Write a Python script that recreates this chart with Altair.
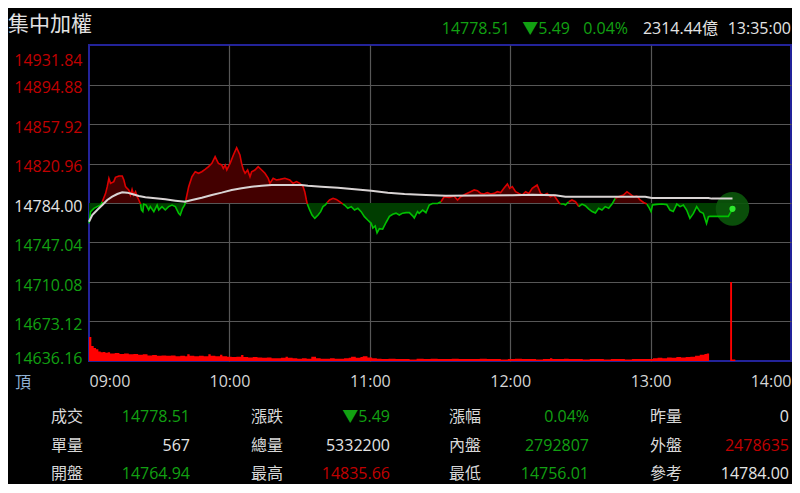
import altair as alt
import pandas as pd

# ---------------- data ----------------
TITLE = "集中加權"
CORNER = "頂"
BASE = 14784.00  # reference price (參考)
Y_TICKS = [14636.16, 14673.12, 14710.08, 14747.04, 14784.00,
           14820.96, 14857.92, 14894.88, 14931.84]
X_TICKS = [0, 60, 120, 180, 240, 300]  # minutes after 09:00

PRICE_MIN = [0, 0.7, 2.1, 3.5, 5.0, 5.7, 7.1, 7.8, 8.5, 9.2, 10.6, 11.3, 12.8, 14.2, 14.9,
             15.6, 16.3, 17.0, 17.7, 18.4, 19.1, 19.9, 20.6, 21.3, 22.0, 22.4, 23.0, 23.4,
             24.4, 25.5, 26.2, 27.7, 29.1, 29.8, 31.2, 32.6, 34.0, 35.5, 36.9, 38.3, 39.0,
             40.0, 40.9, 41.4, 42.6, 44.0, 45.4, 46.8, 48.2, 49.6, 51.1, 52.5, 53.9, 54.6,
             55.3, 56.7, 57.4, 58.2, 58.9, 60.3, 61.7, 63.1, 64.5, 65.2, 66.0, 66.7, 67.8,
             68.8, 69.5, 70.9, 72.3, 73.8, 75.2, 76.6, 77.3, 78.7, 80.1, 81.6, 83.7, 85.8,
             87.2, 88.7, 90.1, 91.5, 92.2, 92.9, 93.3, 94.3, 95.3, 96.5, 97.9, 99.0, 100.0,
             101.0, 101.8, 102.8, 104.3, 105.7, 107.1, 108.5, 109.2, 110.6, 112.1, 113.5,
             114.9, 116.3, 117.7, 119.1, 120.6, 121.3, 122.3, 123.1, 124.1, 125.5, 127.0,
             128.4, 129.8, 131.2, 132.6, 134.0, 135.5, 136.9, 138.3, 139.0, 140.4, 141.1,
             142.6, 144.0, 145.4, 146.8, 149.0, 150.4, 151.8, 153.9, 156.0, 157.5, 158.9,
             161.0, 163.1, 164.6, 166.0, 167.4, 168.8, 170.2, 171.7, 173.1, 174.5, 175.9,
             177.3, 178.8, 179.8, 180.9, 182.3, 183.7, 185.1, 186.6, 188.0, 189.4, 191.5,
             193.0, 194.4, 195.8, 197.2, 198.6, 200.1, 200.8, 201.5, 202.9, 203.6, 205.0,
             206.4, 207.9, 209.3, 210.7, 212.1, 213.5, 215.0, 216.4, 217.8, 219.2, 220.6,
             222.1, 223.5, 224.9, 226.3, 228.4, 229.9, 231.3, 232.7, 234.1, 235.5, 237.0,
             238.4, 239.4, 240.2, 240.8, 242.6, 244.8, 246.9, 248.3, 249.7, 251.2, 252.6,
             254.0, 255.4, 256.8, 258.3, 259.7, 261.1, 262.5, 263.9, 264.7, 265.4, 273.2,
             275.0]
PRICE = [14764.94, 14775.9, 14779.0, 14780.6, 14782.1, 14785.3, 14793.0, 14799.3, 14807.1,
         14802.4, 14804.0, 14808.0, 14809.3, 14809.3, 14805.5, 14799.3, 14797.7, 14796.2,
         14791.5, 14796.8, 14791.5, 14794.6, 14789.9, 14786.8, 14783.0, 14777.5, 14775.9,
         14783.0, 14782.1, 14777.5, 14780.6, 14775.9, 14782.1, 14777.5, 14780.6, 14777.5,
         14780.6, 14782.1, 14780.6, 14774.3, 14772.8, 14779.0, 14782.1, 14786.8, 14799.3,
         14808.6, 14813.3, 14811.8, 14813.3, 14815.5, 14818.0, 14821.1, 14827.4, 14824.2,
         14821.1, 14819.6, 14816.4, 14819.6, 14814.9, 14821.1, 14828.9, 14835.66, 14828.9,
         14821.1, 14814.9, 14811.8, 14814.9, 14808.6, 14813.3, 14814.9, 14818.0, 14814.9,
         14811.8, 14807.1, 14802.4, 14807.1, 14805.5, 14806.1, 14807.1, 14805.5, 14802.4,
         14804.0, 14802.4, 14799.3, 14794.6, 14786.8, 14783.0, 14777.5, 14772.8, 14769.6,
         14772.8, 14775.9, 14780.6, 14782.1, 14784.5, 14786.8, 14788.4, 14787.4, 14785.3,
         14783.0, 14782.1, 14779.0, 14780.6, 14777.5, 14779.0, 14775.9, 14771.2, 14768.1,
         14765.0, 14760.5, 14762.5, 14756.01, 14760.0, 14759.5, 14766.0, 14771.5, 14773.5,
         14774.5, 14772.8, 14774.5, 14775.0, 14775.0, 14772.0, 14770.0, 14775.9, 14774.3,
         14777.4, 14774.9, 14782.1, 14783.5, 14783.5, 14785.2, 14789.9, 14789.3, 14790.5,
         14786.8, 14789.9, 14792.4, 14794.6, 14796.2, 14795.5, 14793.0, 14792.4, 14793.7,
         14792.4, 14793.0, 14794.6, 14793.7, 14797.7, 14801.8, 14797.7, 14799.3, 14794.6,
         14793.0, 14791.5, 14794.6, 14793.0, 14797.7, 14800.8, 14793.0, 14791.5, 14793.0,
         14789.9, 14791.5, 14786.8, 14784.5, 14783.0, 14783.0, 14782.1, 14785.2, 14786.8,
         14785.2, 14780.6, 14783.0, 14781.5, 14778.5, 14776.0, 14774.6, 14779.0, 14777.5,
         14780.6, 14779.0, 14783.0, 14788.4, 14789.9, 14791.5, 14794.6, 14792.4, 14789.9,
         14790.5, 14786.8, 14784.5, 14783.0, 14779.5, 14775.9, 14782.1, 14782.7, 14783.0,
         14782.5, 14777.4, 14776.0, 14783.0, 14780.6, 14782.1, 14777.4, 14769.6, 14774.3,
         14780.6, 14775.9, 14774.3, 14764.9, 14771.2, 14771.5, 14771.5, 14778.51]

AVG_MIN = [0, 1.4, 3.5, 5.7, 7.8, 9.9, 12.1, 14.2, 16.3, 18.4, 21.3, 24.1, 28.4, 32.6, 36.9,
           41.1, 44.0, 48.2, 52.5, 56.7, 61.0, 65.2, 69.5, 73.8, 78.0, 90.8, 93.6, 99.3,
           106.4, 113.5, 120.6, 127.7, 134.8, 144.0, 152.5, 180.9, 189.4, 199.3, 203.6,
           237.7, 240.5, 264.7, 266.1, 275.0]
AVG = [14766.5, 14772.8, 14777.5, 14782.1, 14786.8, 14789.9, 14792.4, 14794.0, 14793.7,
       14792.4, 14790.6, 14789.3, 14788.4, 14787.4, 14786.2, 14785.2, 14786.8, 14789.0,
       14791.5, 14793.7, 14796.2, 14797.7, 14799.3, 14800.2, 14800.8, 14800.8, 14800.2,
       14799.3, 14798.3, 14796.8, 14795.5, 14793.7, 14792.4, 14791.5, 14790.9, 14791.2,
       14791.8, 14791.2, 14789.9, 14789.9, 14788.7, 14788.7, 14788.1, 14788.1]

# traded value per minute (億)
VOL_MIN = [0, 1, 2, 3, 4, 5, 6, 7, 8, 9, 11, 13, 15, 17, 19, 21, 23, 25, 27, 29, 31, 33, 35,
           37, 39, 41, 42, 43, 45, 47, 49, 51, 52, 54, 56, 57, 59, 61, 63, 65, 66, 68, 70, 72,
           74, 76, 78, 80, 82, 84, 85, 87, 89, 91, 93, 95, 97, 99, 101, 103, 105, 107, 109,
           111, 112, 114, 116, 117, 119, 121, 123, 125, 128, 131, 134, 137, 140, 143, 146,
           149, 152, 155, 158, 161, 164, 167, 170, 173, 176, 179, 182, 185, 188, 191, 194,
           197, 198, 201, 203, 205, 208, 211, 214, 217, 220, 223, 226, 229, 232, 235, 238,
           241, 243, 245, 247, 249, 251, 253, 255, 257, 259, 261, 263, 264, 265, 274, 274.8,
           276.2]
VOL = [61, 38, 33, 30, 24, 22, 23, 21, 22, 19, 20, 18, 19, 17, 18, 16, 17, 14, 15, 13, 14,
       13, 14, 12, 13, 12, 17, 13, 12, 13, 12, 17, 13, 12, 16, 12, 11, 10, 11, 15, 10, 9, 10,
       9, 8, 9, 7, 7, 8, 11, 8, 7, 6, 7, 6, 11, 7, 6, 6, 7, 6, 6, 7, 8, 11, 8, 10, 12, 9, 7,
       6, 5, 6, 5, 5, 4, 6, 5, 6, 5, 5, 6, 5, 5, 5, 6, 5, 5, 4, 5, 6, 5, 5, 4, 5, 7, 5, 5, 6,
       5, 5, 4, 5, 5, 4, 5, 5, 4, 5, 5, 5, 7, 8, 7, 9, 8, 10, 9, 10, 11, 13, 16, 18, 19, 0,
       200, 4, 0]

HEADER_VALUES = ["14778.51", "▼5.49", "0.04%", "2314.44億", "13:35:00"]
HEADER_TONE = ["down", "down", "down", "flat", "flat"]

TABLE_LABELS = [["成交", "漲跌", "漲幅", "昨量"],
                ["單量", "總量", "內盤", "外盤"],
                ["開盤", "最高", "最低", "參考"]]
TABLE_VALUES = [["14778.51", "▼5.49", "0.04%", "0"],
                ["567", "5332200", "2792807", "2478635"],
                ["14764.94", "14835.66", "14756.01", "14784.00"]]
TABLE_TONE = [["down", "down", "down", "flat"],
              ["flat", "flat", "down", "up"],
              ["down", "up", "down", "flat"]]

# ---------------- layout / style ----------------
W, H = 702, 316
FONT = "Open Sans, Noto Sans CJK TC, DejaVu Sans, sans-serif"
CJK = "Noto Sans CJK TC, Noto Sans, sans-serif"
LINE_RED, LINE_GREEN = "#dc0000", "#00c000"
FILL_RED, FILL_GREEN = "#430000", "#003d00"
TXT_RED, TXT_GREEN, TXT_WHITE = "#c00000", "#12a012", "#e4e4e4"
GRID = "#575757"
BORDER = "#23239a"

HEADER_RIGHT = [421, 481, 539, 629, 702]
HEADER_Y = -16
LABEL_X = [-22, 178, 376, 577]
VALUE_RIGHT = [101, 301, 500, 700]
ROW_Y = [372, 400.5, 429]

# ---------------- frames ----------------
price_df = pd.DataFrame({"minute": PRICE_MIN, "price": PRICE})
price_df["base"] = BASE
avg_df = pd.DataFrame({"minute": AVG_MIN, "avg": AVG})
vol_df = pd.DataFrame({"minute": VOL_MIN, "vol": VOL})
last_df = price_df.tail(1)

rows, seg, prev = [], 0, None
for m, p in zip(PRICE_MIN, PRICE):
    up = p >= BASE
    if prev is not None and up != prev:
        rows.append({"minute": m, "price": p, "seg": seg, "dir": "up" if prev else "down"})
        seg += 1
    rows.append({"minute": m, "price": p, "seg": seg, "dir": "up" if up else "down"})
    prev = up
line_df = pd.DataFrame(rows)

xs = alt.Scale(domain=[0, 300], nice=False, zero=False)
ys = alt.Scale(domain=[Y_TICKS[0], Y_TICKS[-1]], nice=False, zero=False)

x_axis = alt.Axis(values=X_TICKS, labelExpr="format(9 + datum.value / 60, '02d') + ':00'",
                  title=None, domain=False, ticks=False, labelPadding=12, labelFont=FONT,
                  labelFontSize=16, labelColor="#d6d6d6", labelFlush=True, labelOverlap=False,
                  grid=True, gridColor=GRID, gridWidth=1.2,
                  gridOpacity={"condition": {"test": "datum.value <= 0 || datum.value >= 300",
                                             "value": 0}, "value": 1})
y_axis = alt.Axis(values=Y_TICKS, format=".2f", title=None, domain=False, ticks=False,
                  labelPadding=7, labelFont=FONT, labelFontSize=16, labelFlush=False,
                  labelOverlap=False, labelBaseline="middle",
                  labelColor={"condition": [{"test": f"datum.value > {BASE + 0.5}", "value": TXT_RED},
                                            {"test": f"datum.value < {BASE - 0.5}", "value": TXT_GREEN}],
                              "value": TXT_WHITE},
                  labelOffset={"condition": [{"test": "datum.value > 14930", "value": 15},
                                             {"test": "datum.value < 14640", "value": -3}],
                               "value": 3},
                  grid=True, gridColor=GRID, gridWidth=1.2,
                  gridOpacity={"condition": {"test": "datum.value < 14640 || datum.value > 14930",
                                             "value": 0}, "value": 1})


def X(field="minute"):
    return alt.X(f"{field}:Q", scale=xs, axis=x_axis)


def Y(field):
    return alt.Y(f"{field}:Q", scale=ys, axis=y_axis)


red_area = alt.Chart(price_df).transform_calculate(
    hi=f"max(datum.price, {BASE})"
).mark_area(color=FILL_RED).encode(x=X(), y=Y("hi"), y2="base:Q")
green_area = alt.Chart(price_df).transform_calculate(
    lo=f"min(datum.price, {BASE})"
).mark_area(color=FILL_GREEN).encode(x=X(), y=Y("lo"), y2="base:Q")
glow = alt.Chart(last_df).mark_circle(size=1130, color="#0b560b", opacity=0.9).encode(
    x=X(), y=Y("price"))
price_line = alt.Chart(line_df).mark_line(strokeWidth=1.6).encode(
    x=X(), y=Y("price"),
    detail="seg:N",
    color=alt.Color("dir:N", scale=alt.Scale(domain=["up", "down"], range=[LINE_RED, LINE_GREEN]),
                    legend=None),
)
avg_line = alt.Chart(avg_df).mark_line(strokeWidth=2, color="#d9d4d4").encode(
    x=X(), y=Y("avg"))
dot = alt.Chart(last_df).mark_circle(size=38, color="#2ee82e", opacity=1).encode(
    x=X(), y=Y("price"))
price_group = alt.layer(red_area, green_area, glow, price_line, avg_line, dot)

vol_area = alt.Chart(vol_df).mark_area(color="#ff0000", interpolate="step-after").encode(
    x=X(),
    y=alt.Y("vol:Q", scale=alt.Scale(domain=[0, 800], nice=False), axis=None),
)
main = alt.layer(vol_area, price_group).resolve_scale(y="independent")

# ---------------- texts ----------------
tone_scale = alt.Scale(domain=["up", "down", "flat"], range=[TXT_RED, TXT_GREEN, TXT_WHITE])

title_df = pd.DataFrame({"t": [TITLE], "x": [-81], "y": [-20]})
title_t = alt.Chart(title_df).mark_text(align="left", baseline="middle", font=CJK,
                                        fontSize=21, color="#e2e2e2").encode(
    x=alt.X("x:Q", scale=None, axis=None), y=alt.Y("y:Q", scale=None, axis=None), text="t:N")

corner_df = pd.DataFrame({"t": [CORNER], "x": [-66], "y": [338]})
corner_t = alt.Chart(corner_df).mark_text(align="center", baseline="middle", font=CJK,
                                          fontSize=16, color="#8eb2d4").encode(
    x=alt.X("x:Q", scale=None, axis=None), y=alt.Y("y:Q", scale=None, axis=None), text="t:N")

hdr_df = pd.DataFrame({"v": HEADER_VALUES, "tone": HEADER_TONE, "x": HEADER_RIGHT,
                       "y": [HEADER_Y] * len(HEADER_VALUES)})
hdr_t = alt.Chart(hdr_df).mark_text(align="right", baseline="middle", font=FONT,
                                    fontSize=16).encode(
    x=alt.X("x:Q", scale=None, axis=None), y=alt.Y("y:Q", scale=None, axis=None),
    text="v:N", color=alt.Color("tone:N", scale=tone_scale, legend=None))

cells = []
for r in range(3):
    for c in range(4):
        cells.append({"label": TABLE_LABELS[r][c], "value": TABLE_VALUES[r][c],
                      "tone": TABLE_TONE[r][c], "lx": LABEL_X[c], "vx": VALUE_RIGHT[c],
                      "ry": ROW_Y[r]})
cell_df = pd.DataFrame(cells)
lab_t = alt.Chart(cell_df).mark_text(align="center", baseline="middle", font=CJK, fontSize=16,
                                     color="#d8d8d8").encode(
    x=alt.X("lx:Q", scale=None, axis=None), y=alt.Y("ry:Q", scale=None, axis=None),
    text="label:N")
val_t = alt.Chart(cell_df).mark_text(align="right", baseline="middle", font=FONT,
                                     fontSize=16).encode(
    x=alt.X("vx:Q", scale=None, axis=None), y=alt.Y("ry:Q", scale=None, axis=None),
    text="value:N", color=alt.Color("tone:N", scale=tone_scale, legend=None))

chart = alt.layer(main, title_t, corner_t, hdr_t, lab_t, val_t).resolve_scale(
    x="independent", y="independent", color="independent"
).properties(
    width=W, height=H,
    padding={"left": 81, "top": 37, "right": 1, "bottom": 123},
    autosize=alt.AutoSizeParams(type="none"),
).configure(background="#000000").configure_view(stroke=BORDER, strokeWidth=2, fill="#000000")

chart.save("out.html", embed_options={"renderer": "svg", "actions": False})
